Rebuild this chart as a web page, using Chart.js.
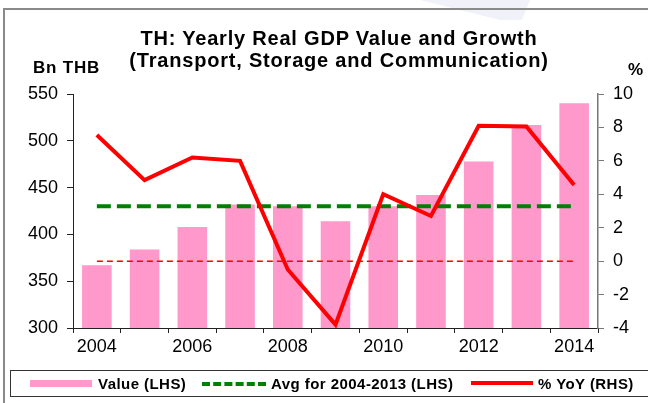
<!DOCTYPE html>
<html>
<head>
<meta charset="utf-8">
<script src="https://cdn.jsdelivr.net/npm/chart.js@4"></script>
<style>
  html, body { margin: 0; padding: 0; background: #fff; }
  body { width: 648px; height: 403px; position: relative; overflow: hidden;
         font-family: "Liberation Sans", Arial, sans-serif; }
  .wm { position: absolute; left: 0; top: 0; width: 648px; height: 40px;
        background: #f0f1f9; clip-path: polygon(420px 0, 530px 0, 522px 20px, 500px 20px); }
  .frame { position: absolute; left: 3px; top: 8px; width: 660px; height: 420px;
           border-left: 2px solid #8a8a8a; border-top: 2px solid #8a8a8a; }
  .title { position: absolute; left: 0; width: 678px; top: 27px; text-align: center;
           font-weight: bold; font-size: 20px; line-height: 22px; letter-spacing: 0.8px; color: #000; }
  .unit { position: absolute; font-weight: bold; font-size: 17px; letter-spacing: 0.8px; color: #000; }
  #wrap { position: absolute; left: 0; top: 0; width: 648px; height: 403px; }
  .legend { position: absolute; left: 10px; top: 370px; width: 650px; height: 27px;
            border: 1px solid #333; box-sizing: border-box; }
  .legend span { position: absolute; top: 4px; font-weight: bold; font-size: 15px;
                 letter-spacing: 0.45px; color: #000; }
  .sw { position: absolute; }
</style>
</head>
<body>
<div class="wm"></div>
<div class="frame"></div>
<div id="wrap"><canvas id="chart"></canvas></div>
<div class="title">TH: Yearly Real GDP Value and Growth<br>(Transport, Storage and Communication)</div>
<div class="unit" style="left:33px; top:58px;">Bn THB</div>
<div class="unit" style="left:628px; top:60px;">%</div>
<div class="legend">
  <div class="sw" style="left:19px; top:9px; width:62px; height:7px; background:#ff99cc;"></div>
  <span style="left:87px;">Value (LHS)</span>
  <div class="sw" style="left:191px; top:11px; width:64px; height:0; border-top:4px dashed #008000;"></div>
  <span style="left:260px;">Avg for 2004-2013 (LHS)</span>
  <div class="sw" style="left:460px; top:10px; width:62px; height:4px; background:#ff0000;"></div>
  <span style="left:527px;">% YoY (RHS)</span>
</div>
<script>
const years = ["2004", "2005", "2006", "2007", "2008", "2009", "2010", "2011", "2012", "2013", "2014"];
const gdpValue = [367, 384, 408, 432, 430, 414, 430, 442, 478, 517, 540];
const avgLine = [430.2, 430.2, 430.2, 430.2, 430.2, 430.2, 430.2, 430.2, 430.2, 430.2, 430.2];
const yoyGrowth = [7.55, 4.85, 6.2, 6.0, -0.5, -3.8, 4.0, 2.7, 8.1, 8.05, 4.55];
const zeroLine = [0, 0, 0, 0, 0, 0, 0, 0, 0, 0, 0];

const tickFont = { family: "Liberation Sans", size: 18 };

new Chart(document.getElementById("chart"), {
  type: "bar",
  data: {
    labels: years,
    datasets: [
      { type: "line", data: yoyGrowth, yAxisID: "y1", borderColor: "#ff0000", borderWidth: 4,
        pointRadius: 0, tension: 0, order: 0 },
      { type: "line", data: avgLine, yAxisID: "y", borderColor: "#008000", borderWidth: 4,
        borderDash: [14, 6], pointRadius: 0, order: 1 },
      { type: "line", data: zeroLine, yAxisID: "y1", borderColor: "#ff0000", borderWidth: 1.5,
        borderDash: [6, 4], pointRadius: 0, order: 2 },
      { type: "bar", data: gdpValue, yAxisID: "y", backgroundColor: "#ff99cc",
        categoryPercentage: 1, barPercentage: 0.62, order: 3 },
    ],
  },
  options: {
    responsive: true,
    maintainAspectRatio: false,
    animation: false,
    layout: { padding: { left: 0, right: 0, top: 94, bottom: 0 } },
    plugins: { legend: { display: false }, title: { display: false }, tooltip: { enabled: false } },
    scales: {
      x: {
        offset: true,
        grid: { offset: true, drawOnChartArea: false, drawTicks: true, tickLength: 5, color: "#222" },
        border: { display: true, color: "#222", width: 1 },
        ticks: { autoSkip: false, maxRotation: 0, color: "#000", font: tickFont, padding: 3,
                 callback: (v, i) => (i % 2 === 0 ? years[i] : "") },
        afterFit: (s) => { s.height = 75; },
      },
      y: {
        position: "left",
        min: 300, max: 550,
        grid: { drawOnChartArea: false, drawTicks: true, tickLength: 6, color: "#222" },
        border: { display: true, color: "#222", width: 1 },
        ticks: { stepSize: 50, color: "#000", font: tickFont, padding: 9 },
        afterFit: (s) => { s.width = 73; },
      },
      y1: {
        position: "right",
        min: -4, max: 10,
        grid: { drawOnChartArea: false, drawTicks: true, tickLength: 6, color: "#777" },
        border: { display: true, color: "#777", width: 1.5 },
        ticks: { stepSize: 2, color: "#000", font: tickFont, padding: 9 },
        afterFit: (s) => { s.width = 50; },
      },
    },
  },
});
</script>
</body>
</html>
